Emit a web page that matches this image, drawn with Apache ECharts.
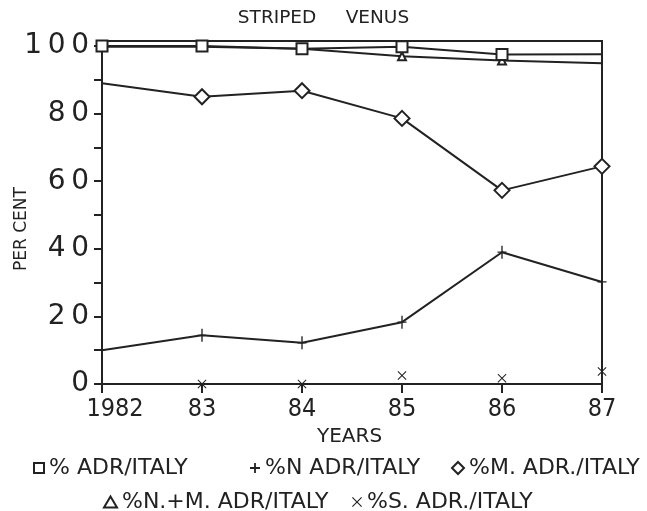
<!DOCTYPE html>
<html>
<head>
<meta charset="utf-8">
<script src="https://cdn.jsdelivr.net/npm/echarts@6/dist/echarts.min.js"></script>
<style>html,body{margin:0;padding:0;background:#fff;}#c{width:647px;height:511px;}</style>
</head>
<body>
<div id="c"></div>
<script>
const years = [1982, 1983, 1984, 1985, 1986, 1987];
const adrItaly = [100, 100, 99.2, 99.8, 97.5, 97.6];
const nAdrItaly = [10, 14.4, 12.2, 18.3, 39, 30.2];
const mAdrItaly = [89, 85, 86.8, 78.6, 57.3, 64.4];
const nmAdrItaly = [99.8, 99.8, 99.2, 97, 95.7, 94.9];
const sAdrItaly = [0, 0, 0, 2.5, 1.7, 3.7];
const yTickValues = [0, 10, 20, 30, 40, 50, 60, 70, 80, 90, 100];
const yLabelValues = [0, 20, 40, 60, 80, 100];
const xLabels = ['1982', '83', '84', '85', '86', '87'];
const names = ['% ADR/ITALY', '%N ADR/ITALY', '%M. ADR./ITALY', '%N.+M. ADR/ITALY', '%S. ADR./ITALY'];

const INK = '#222';
const FONT = 'DejaVu Sans';
const COND = 'DejaVu Sans Condensed';
const plusPath = 'path://M-0.6,-6 L0.6,-6 L0.6,-0.6 L4,-0.6 L4,0.6 L0.6,0.6 L0.6,6 L-0.6,6 L-0.6,0.6 L-4,0.6 L-4,-0.6 L-0.6,-0.6 Z';
const plusIcon = 'path://M-0.9,-5 L0.9,-5 L0.9,-0.9 L5,-0.9 L5,0.9 L0.9,0.9 L0.9,5 L-0.9,5 L-0.9,0.9 L-5,0.9 L-5,-0.9 L-0.9,-0.9 Z';
const crossPath = 'path://M-5,-4.2 L-4.2,-5 L0,-0.8 L4.2,-5 L5,-4.2 L0.8,0 L5,4.2 L4.2,5 L0,0.8 L-4.2,5 L-5,4.2 L-0.8,0 Z';

// data items; 'hide' lists indices whose marker is not drawn
function pairs(vals, hide) {
  return vals.map((v, i) => {
    const item = { value: [years[i], v] };
    if (hide.indexOf(i) >= 0) item.symbol = 'none';
    return item;
  });
}

const hollow = { color: '#fff', borderColor: INK, borderWidth: 2 };
const lineSt = { color: INK, width: 2 };
const legendText = { fontFamily: FONT, fontSize: 22, color: INK };

function leg(left, top, name, icon, style, w, h) {
  return { left: left, top: top, itemWidth: w, itemHeight: h, itemGap: 6, textStyle: legendText,
    data: [{ name: name, icon: icon, itemStyle: style }] };
}

const chart = echarts.init(document.getElementById('c'), null, { renderer: 'canvas' });
chart.setOption({
  backgroundColor: '#fff',
  animation: false,
  title: {
    text: 'STRIPED     VENUS', left: 'center', top: 4,
    textStyle: { fontFamily: FONT, fontWeight: 'normal', fontSize: 18.5, color: INK }
  },
  grid: { left: 102, right: 45, top: 41, bottom: 127, show: true, borderColor: INK, borderWidth: 2, containLabel: false },
  xAxis: {
    type: 'value', min: 1982, max: 1987, interval: 1,
    axisLine: { lineStyle: { color: INK, width: 2 } },
    axisTick: { show: true, length: 9, lineStyle: { color: INK, width: 2 } },
    splitLine: { show: false },
    axisLabel: {
      margin: 13, color: INK, fontFamily: COND, fontSize: 25,
      formatter: v => { const i = years.indexOf(v); return i === 0 ? '{a|' + xLabels[i] + '}' : (i >= 0 ? xLabels[i] : ''); },
      rich: { a: { fontFamily: COND, fontSize: 25, color: INK, padding: [0, 0, 0, 26] } }
    }
  },
  yAxis: {
    type: 'value', min: 0, max: 101.5,
    axisLine: { show: true, lineStyle: { color: INK, width: 2 } },
    axisTick: { show: true, length: 8, customValues: yTickValues, lineStyle: { color: INK, width: 2 } },
    splitLine: { show: false },
    axisLabel: { customValues: yLabelValues, margin: 13, color: INK, fontFamily: FONT, fontSize: 28,
      formatter: v => String(v).split('').join('\u2009') }
  },
  legend: [
    leg(28, 452, names[0], 'rect', hollow, 10, 10),
    leg(245, 452, names[1], plusIcon, { color: INK, borderWidth: 0 }, 10, 10),
    leg(446, 452, names[2], 'diamond', hollow, 12, 12),
    leg(98, 486, names[3], 'triangle', hollow, 13, 11),
    leg(347, 486, names[4], crossPath, { color: INK, borderWidth: 0 }, 10, 10)
  ],
  graphic: [
    { type: 'text', left: 317, top: 427, style: { text: 'YEARS', font: '20px "DejaVu Sans"', fill: INK } },
    { type: 'text', x: 13, y: 271, rotation: Math.PI / 2, style: { text: 'PER CENT', font: '17px "DejaVu Sans"', fill: INK } }
  ],
  series: [
    { name: names[3], type: 'line', data: pairs(nmAdrItaly, [0, 5]), symbol: 'triangle', symbolSize: 8, itemStyle: hollow, lineStyle: lineSt, z: 2 },
    { name: names[0], type: 'line', data: pairs(adrItaly, [5]), symbol: 'rect', symbolSize: 11, itemStyle: hollow, lineStyle: lineSt, z: 3 },
    { name: names[1], type: 'line', data: pairs(nAdrItaly, [0]), symbol: plusPath, symbolSize: [9, 13], itemStyle: { color: INK }, lineStyle: lineSt, z: 3 },
    { name: names[2], type: 'line', data: pairs(mAdrItaly, [0]), symbol: 'diamond', symbolSize: 15, itemStyle: hollow, lineStyle: lineSt, z: 3 },
    { name: names[4], type: 'line', data: pairs(sAdrItaly, [0]), symbol: crossPath, symbolSize: 9, itemStyle: { color: INK }, lineStyle: { opacity: 0 }, z: 4 }
  ]
});
</script>
</body>
</html>
